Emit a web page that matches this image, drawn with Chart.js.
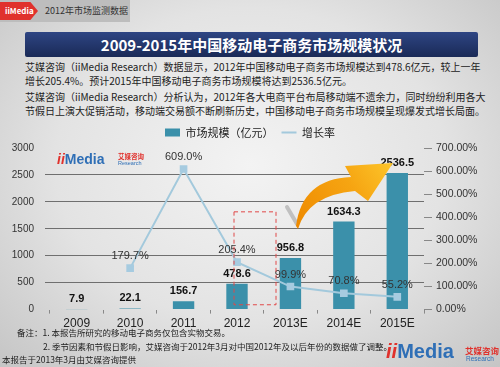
<!DOCTYPE html>
<html>
<head>
<meta charset="utf-8">
<script src="https://cdn.jsdelivr.net/npm/chart.js@4.4.1/dist/chart.umd.min.js"></script>
<style>
html, body { margin: 0; padding: 0; }
body {
    width: 500px; height: 367px; overflow: hidden; position: relative;
    background: radial-gradient(ellipse at 50% 45%, #f3f3f3 0%, #e3e3e3 55%, #c5c5c5 100%);
    font-family: "Noto Sans CJK SC", "Liberation Sans", sans-serif;
}
.strip { position: absolute; left: 0; top: 0; width: 130px; height: 22px; background: #bdbdbd; }
.tag { position: absolute; left: 0; top: 2px; width: 38px; height: 18px; background: #e0312c;
       clip-path: polygon(0 0, 80% 0, 100% 50%, 80% 100%, 0 100%); color: #fff; font-size: 8px;
       line-height: 18px; padding-left: 5px; box-sizing: border-box; font-weight: bold; }
.strip-text { position: absolute; left: 45px; top: 4px; font-size: 9px; color: #333; }
.banner { position: absolute; left: 25px; top: 32px; width: 453px; height: 25px;
          background: linear-gradient(#2e4583, #1a2a57); border-radius: 2px;
          color: #fff; font-weight: bold; font-size: 15px; line-height: 25px; text-align: center; }
.para { position: absolute; left: 25px; width: 452px; font-size: 10px; color: #222; white-space: nowrap; }
.full { text-align: justify; text-align-last: justify; }
.note { position: absolute; font-size: 8.5px; color: #222; white-space: nowrap; }
.logo { position: absolute; white-space: nowrap; font-family: "Liberation Sans", sans-serif; }
.logo .ii { color: #e0312c; font-weight: bold; font-style: italic; }
.logo .m { color: #2f6fb6; font-weight: bold; }
.logo .cn { color: #e0312c; font-family: "Noto Sans CJK SC"; font-weight: bold; position: absolute; }
.logo .en { color: #2f6fb6; position: absolute; }
#wrap { position: absolute; left: 0; top: 119px; width: 500px; height: 215px; }
</style>
</head>
<body>
<div class="strip"></div>
<div class="tag">iiMedia</div>
<div class="strip-text">2012年市场监测数据</div>
<div class="banner">2009-2015年中国移动电子商务市场规模状况</div>

<div class="para full" style="top:59px;">艾媒咨询（iiMedia Research）数据显示，2012年中国移动电子商务市场规模达到478.6亿元，较上一年</div>
<div class="para" style="top:73px;">增长205.4%。预计2015年中国移动电子商务市场规模将达到2536.5亿元。</div>
<div class="para full" style="top:89px;">艾媒咨询（iiMedia Research）分析认为，2012年各大电商平台布局移动端不遗余力，同时纷纷利用各大</div>
<div class="para full" style="top:103px; width:448px;">节假日上演大促销活动，移动端交易额不断刷新历史，中国移动电子商务市场规模呈现爆发式增长局面。</div>

<div id="wrap"><canvas id="mycanvas"></canvas></div>

<div class="logo" style="left:57px; top:151px; font-size:14px;">
    <span class="ii">ii</span><span class="m">Media</span>
    <span class="cn" style="left:61px; top:0px; font-size:6.5px;">艾媒咨询</span>
    <span class="en" style="left:61px; top:9px; font-size:5.5px;">Research</span>
</div>

<div class="note" style="left:17px; top:326px;">备注：1. 本报告所研究的移动电子商务仅包含实物交易。</div>
<div class="note" style="left:43px; top:340px;">2. 季节因素和节假日影响，艾媒咨询于2012年3月对中国2012年及以后年份的数据做了调整。</div>
<div class="note" style="left:2px; top:353px;">本报告于2013年3月由艾媒咨询提供</div>

<div class="logo" style="left:386px; top:340px; font-size:20px;">
    <span class="ii">ii</span><span class="m">Media</span>
    <span class="cn" style="left:79px; top:4px; font-size:8.5px;">艾媒咨询</span>
    <span class="en" style="left:80px; top:15px; font-size:6.5px;">Research</span>
</div>

<script>
const years = ['2009', '2010', '2011', '2012', '2013E', '2014E', '2015E'];
const marketSize = [7.9, 22.1, 156.7, 478.6, 956.8, 1634.3, 2536.5];
const growthRate = [null, 179.7, 609.0, 205.4, 99.9, 70.8, 55.2];
const leftMax = 3000, leftStep = 500;
const rightMax = 700, rightStep = 100;

// value labels above bars and line points
const valueLabels = {
    id: 'valueLabels',
    afterDatasetsDraw(chart) {
        const ctx = chart.ctx;
        ctx.save();
        ctx.textAlign = 'center';
        ctx.textBaseline = 'middle';
        const lineMeta = chart.getDatasetMeta(0);
        const barMeta = chart.getDatasetMeta(1);
        ctx.font = 'bold 11px "Liberation Sans", sans-serif';
        ctx.fillStyle = '#111';
        barMeta.data.forEach((bar, i) => {
            ctx.fillText(marketSize[i].toFixed(1), bar.x, bar.y - 10);
        });
        ctx.font = '11px "Liberation Sans", sans-serif';
        ctx.fillStyle = '#333';
        lineMeta.data.forEach((pt, i) => {
            if (growthRate[i] == null) return;
            ctx.fillText(growthRate[i].toFixed(1) + '%', pt.x, pt.y - 12);
        });
        ctx.restore();
    }
};

// dashed box round 2012 and the orange arrow
const decorations = {
    id: 'decorations',
    afterDatasetsDraw(chart) {
        const ctx = chart.ctx;
        const xs = chart.scales.x, ys = chart.scales.y;
        const ca = chart.chartArea;
        const P = (ax, ay) => [ca.left + ax - 50, ca.top + ay - 146];
        ctx.save();

        const x2012 = xs.getPixelForValue(3);
        ctx.strokeStyle = '#e04848';
        ctx.lineWidth = 1;
        ctx.setLineDash([4, 3]);
        ctx.strokeRect(x2012 - 3, ys.getPixelForValue(1815), 42, ys.getPixelForValue(90) - ys.getPixelForValue(1815));
        ctx.setLineDash([]);

        // shadow streak
        ctx.strokeStyle = 'rgba(90,90,90,0.3)';
        ctx.lineWidth = 4;
        ctx.lineCap = 'round';
        ctx.beginPath();
        ctx.moveTo(...P(287, 205));
        ctx.lineTo(...P(297, 222));
        ctx.stroke();

        const g = ctx.createLinearGradient(...P(298, 226), ...P(392, 161));
        g.addColorStop(0, '#ee8a00');
        g.addColorStop(0.6, '#f6a512');
        g.addColorStop(1, '#fdc52a');
        ctx.fillStyle = g;
        ctx.beginPath();
        ctx.moveTo(...P(298, 227));
        ctx.quadraticCurveTo(...P(308, 193), ...P(355, 189));
        ctx.lineTo(...P(368, 199));
        ctx.lineTo(...P(393, 161));
        ctx.lineTo(...P(345, 164));
        ctx.lineTo(...P(351, 175));
        ctx.quadraticCurveTo(...P(302, 177), ...P(296, 224));
        ctx.closePath();
        ctx.fill();
        ctx.restore();
    }
};

const chartData = {
    labels: years,
    datasets: [
        {
            type: 'line',
            label: '增长率',
            data: growthRate,
            yAxisID: 'y1',
            borderColor: '#a3c9dc',
            backgroundColor: '#a3c9dc',
            borderWidth: 2,
            pointStyle: 'rect',
            pointRadius: 4,
            pointBackgroundColor: '#a6cbe0',
            pointBorderColor: '#a6cbe0',
            tension: 0,
            spanGaps: true
        },
        {
            type: 'bar',
            label: '市场规模（亿元）',
            data: marketSize,
            yAxisID: 'y',
            backgroundColor: '#3b90aa',
            borderWidth: 0,
            pointStyle: 'rect',
            categoryPercentage: 1,
            barPercentage: 0.4
        }
    ]
};

const ctx = document.getElementById('mycanvas');
new Chart(ctx, {
    data: chartData,
    options: {
        responsive: true,
        maintainAspectRatio: false,
        animation: false,
        layout: { padding: { left: 0, right: 0, top: 0, bottom: 0 } },
        plugins: {
            legend: {
                position: 'top',
                reverse: true,
                labels: {
                    usePointStyle: true,
                    pointStyleWidth: 15,
                    boxHeight: 8,
                    padding: 8,
                    color: '#222',
                    font: { family: '"Noto Sans CJK SC", sans-serif', size: 11 },
                    generateLabels(chart) {
                        const items = Chart.defaults.plugins.legend.labels.generateLabels(chart);
                        items.forEach(it => {
                            if (it.datasetIndex === 0) { it.pointStyle = 'line'; it.lineWidth = 2; it.strokeStyle = '#a3c9dc'; }
                            else { it.pointStyle = 'rect'; it.lineWidth = 0; }
                        });
                        return items;
                    }
                }
            },
            tooltip: { enabled: false }
        },
        scales: {
            x: {
                grid: { drawOnChartArea: false, drawTicks: true, tickLength: 4, color: '#888', offset: true },
                border: { display: false },
                ticks: { color: '#222', padding: 3, font: { family: '"Liberation Sans", sans-serif', size: 12 } }
            },
            y: {
                position: 'left',
                min: 0,
                max: leftMax,
                afterFit(scale) { scale.width = 50; },
                ticks: {
                    stepSize: leftStep, color: '#333', padding: 11,
                    font: { family: '"Liberation Sans", sans-serif', size: 10 },
                    callback: v => String(v)
                },
                grid: {
                    color: c => (c.tick.value === 0 || c.tick.value === leftMax) ? 'rgba(0,0,0,0)' : '#6f6f6f',
                    tickLength: 5,
                    lineWidth: 1
                },
                border: { display: false }
            },
            y1: {
                position: 'right',
                min: 0,
                max: rightMax,
                afterFit(scale) { scale.width = 76; },
                ticks: {
                    stepSize: rightStep, color: '#333', padding: 4,
                    font: { family: '"Liberation Sans", sans-serif', size: 10.5 },
                    callback: v => v.toFixed(2) + '%'
                },
                grid: { drawOnChartArea: false, drawTicks: true, tickLength: 8, color: '#888' },
                border: { display: false }
            }
        }
    },
    plugins: [valueLabels, decorations]
});
</script>
</body>
</html>
